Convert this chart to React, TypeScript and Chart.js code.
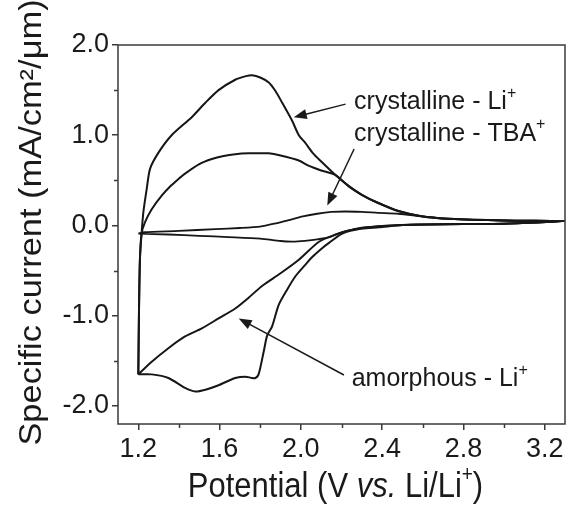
import React, { useEffect, useRef } from "react";
import { Chart, registerables } from "chart.js";
Chart.register(...registerables);

const FONT = "'Liberation Sans', Arial, Helvetica, sans-serif";

const xTicks = [1.2, 1.6, 2.0, 2.4, 2.8, 3.2];
const xMinorTicks = [1.4, 1.8, 2.2, 2.6, 3.0];
const yTicks = [-2, -1, 0, 1, 2];
const yMinorTicks = [-1.5, -0.5, 0.5, 1.5];

// crystalline - Li+ : anodic sweep then cathodic sweep (closed loop)
const crystLiX = [
  1.2, 1.203, 1.208, 1.216, 1.225, 1.241, 1.258, 1.3, 1.364, 1.463, 1.53, 1.595, 1.677, 1.73, 1.76, 1.8,
  1.842, 1.875, 1.908, 1.957, 1.99, 2.02, 2.06, 2.1, 2.17, 2.24, 2.3, 2.37, 2.48, 2.6, 2.73, 3.0, 3.3,
  3.0, 2.8, 2.6, 2.5, 2.385, 2.3, 2.204, 2.14, 2.1, 2.056, 2.02, 1.974, 1.93, 1.891, 1.858, 1.834, 1.817,
  1.8, 1.79, 1.776, 1.76, 1.727, 1.677, 1.595, 1.53, 1.48, 1.43, 1.348, 1.266, 1.2,
];
const crystLiY = [
  -1.65, -1.0, -0.37, -0.09, 0.15, 0.4, 0.63, 0.81, 1.0, 1.2, 1.36, 1.5, 1.615, 1.655, 1.665, 1.64,
  1.585, 1.49, 1.36, 1.16, 1.0, 0.92, 0.8, 0.71, 0.56, 0.43, 0.34, 0.26, 0.16, 0.1, 0.074, 0.055, 0.048,
  0.02, 0.015, 0.01, 0.005, -0.02, -0.035, -0.09, -0.19, -0.26, -0.35, -0.44, -0.56, -0.72, -0.88, -1.12,
  -1.22, -1.4, -1.58, -1.66, -1.69, -1.69, -1.675, -1.69, -1.77, -1.82, -1.84, -1.8, -1.69, -1.65, -1.65,
];

// crystalline - TBA+
const crystTbaX = [
  1.2, 1.23, 1.4, 1.58, 1.7, 1.8, 1.87, 1.94, 2.01, 2.08, 2.15, 2.22, 2.3, 2.38, 2.48, 2.6, 2.73, 3.0, 3.3,
  3.0, 2.8, 2.6, 2.5, 2.4, 2.3, 2.237, 2.2, 2.14, 2.08, 2.02, 1.96, 1.9, 1.8, 1.644, 1.5, 1.35, 1.2,
];
const crystTbaY = [
  -0.09, -0.075, -0.06, -0.04, -0.028, -0.012, 0.02, 0.06, 0.1, 0.13, 0.15, 0.155, 0.15, 0.14, 0.13, 0.1, 0.074, 0.055, 0.048,
  0.02, 0.015, 0.01, 0.005, -0.005, -0.025, -0.055, -0.075, -0.13, -0.155, -0.17, -0.178, -0.172, -0.145, -0.128, -0.115, -0.1, -0.09,
];

// amorphous - Li+
const amorLiX = [
  1.2, 1.203, 1.208, 1.216, 1.233, 1.266, 1.315, 1.36, 1.4, 1.43, 1.5, 1.562, 1.62, 1.677, 1.743, 1.8, 1.842,
  1.9, 1.99, 2.04, 2.1, 2.17, 2.237, 2.3, 2.37, 2.48, 2.6, 2.73, 3.0, 3.3,
  3.0, 2.8, 2.6, 2.5, 2.4, 2.3, 2.237, 2.171, 2.089, 1.99, 1.9, 1.809, 1.743, 1.677, 1.595, 1.513, 1.43,
  1.348, 1.266, 1.2,
];
const amorLiY = [
  -1.65, -1.0, -0.37, -0.09, 0.037, 0.18, 0.33, 0.44, 0.52, 0.575, 0.68, 0.737, 0.77, 0.79, 0.8, 0.8, 0.8,
  0.775, 0.72, 0.66, 0.61, 0.56, 0.43, 0.34, 0.26, 0.16, 0.1, 0.074, 0.055, 0.048,
  0.02, 0.015, 0.01, 0.005, -0.005, -0.03, -0.055, -0.1, -0.18, -0.38, -0.53, -0.67, -0.8, -0.92, -1.03, -1.14,
  -1.23, -1.36, -1.51, -1.65,
];

// annotations (data coordinates)
const labelTexts = ["crystalline - Li", "crystalline - TBA", "amorphous - Li"];
const labelX = [2.262, 2.262, 2.25];
const labelY = [1.29, 0.936, -1.78];
const arrowTailX = [2.22, 2.262, 2.212];
const arrowTailY = [1.345, 0.847, -1.657];
const arrowTipX = [1.965, 2.13, 1.694];
const arrowTipY = [1.198, 0.22, -1.03];

const yTitle = "Specific current (mA/cm\u00B2/\u03BCm)";

function toPts(xs: number[], ys: number[]) {
  return xs.map((x, i) => ({ x, y: ys[i] }));
}

type Part = { t: string; font: string; dy?: number };

function drawParts(
  ctx: CanvasRenderingContext2D,
  parts: Part[],
  x: number,
  y: number,
  align: "left" | "center",
  sy: number
) {
  let w = 0;
  for (const p of parts) {
    ctx.font = p.font;
    w += ctx.measureText(p.t).width;
  }
  ctx.save();
  ctx.translate(x, y);
  ctx.scale(1, sy);
  let cx = align === "center" ? -w / 2 : 0;
  ctx.textAlign = "left";
  ctx.textBaseline = "alphabetic";
  for (const p of parts) {
    ctx.font = p.font;
    ctx.fillText(p.t, cx, p.dy || 0);
    cx += ctx.measureText(p.t).width;
  }
  ctx.restore();
}

const decorPlugin = {
  id: "decor",
  afterDraw(chart: any) {
    const { ctx, chartArea: a, scales } = chart;
    const xs = scales.x;
    const ys = scales.y;
    ctx.save();
    ctx.strokeStyle = "#3a3a3a";
    ctx.lineWidth = 1.5;
    ctx.strokeRect(a.left, a.top, a.right - a.left, a.bottom - a.top);
    ctx.beginPath();
    xMinorTicks.forEach((v) => {
      const px = Math.round(xs.getPixelForValue(v)) + 0.5;
      ctx.moveTo(px, a.bottom);
      ctx.lineTo(px, a.bottom + 4);
    });
    yMinorTicks.forEach((v) => {
      const py = Math.round(ys.getPixelForValue(v)) + 0.5;
      ctx.moveTo(a.left, py);
      ctx.lineTo(a.left - 4, py);
    });
    ctx.stroke();

    ctx.fillStyle = "#1a1a1a";
    ctx.strokeStyle = "#1a1a1a";
    // annotations
    const f = `25px ${FONT}`;
    const fs = `16px ${FONT}`;
    labelTexts.forEach((t, i) => {
      const px = xs.getPixelForValue(labelX[i]);
      const py = ys.getPixelForValue(labelY[i]);
      drawParts(ctx, [{ t, font: f }, { t: "+", font: fs, dy: -11 }], px, py, "left", 1.05);
      const x0 = xs.getPixelForValue(arrowTailX[i]);
      const y0 = ys.getPixelForValue(arrowTailY[i]);
      const x1 = xs.getPixelForValue(arrowTipX[i]);
      const y1 = ys.getPixelForValue(arrowTipY[i]);
      const ang = Math.atan2(y1 - y0, x1 - x0);
      const hl = 13;
      const hw = 5;
      ctx.lineWidth = 1.5;
      ctx.beginPath();
      ctx.moveTo(x0, y0);
      ctx.lineTo(x1 - hl * 0.8 * Math.cos(ang), y1 - hl * 0.8 * Math.sin(ang));
      ctx.stroke();
      ctx.beginPath();
      ctx.moveTo(x1, y1);
      ctx.lineTo(x1 - hl * Math.cos(ang) + hw * Math.sin(ang), y1 - hl * Math.sin(ang) - hw * Math.cos(ang));
      ctx.lineTo(x1 - hl * Math.cos(ang) - hw * Math.sin(ang), y1 - hl * Math.sin(ang) + hw * Math.cos(ang));
      ctx.closePath();
      ctx.fill();
    });

    // x title
    const tf = `31px ${FONT}`;
    const tfi = `italic 31px ${FONT}`;
    const tfs = `19px ${FONT}`;
    drawParts(
      ctx,
      [
        { t: "Potential (V ", font: tf },
        { t: "vs.", font: tfi },
        { t: " Li/Li", font: tf },
        { t: "+", font: tfs, dy: -14 },
        { t: ")", font: tf },
      ],
      (a.left + a.right) / 2 - 6,
      a.bottom + 73,
      "center",
      1.12
    );
    // y title
    ctx.translate(a.left - 86, (a.top + a.bottom) / 2 - 12);
    ctx.rotate(-Math.PI / 2);
    ctx.scale(1.11, 1);
    ctx.font = `31px ${FONT}`;
    ctx.textAlign = "center";
    ctx.textBaseline = "middle";
    ctx.fillText(yTitle, 0, 0);
    ctx.restore();
  },
};

export default function App() {
  const ref = useRef<HTMLCanvasElement | null>(null);
  useEffect(() => {
    if (!ref.current) return;
    const lineColor = "#161616";
    const chart = new Chart(ref.current, {
      type: "scatter",
      data: {
        datasets: [
          { label: "crystalline - Li+", data: toPts(crystLiX, crystLiY), showLine: true, borderColor: lineColor, borderWidth: 2, pointRadius: 0 },
          { label: "crystalline - TBA+", data: toPts(crystTbaX, crystTbaY), showLine: true, borderColor: lineColor, borderWidth: 1.8, pointRadius: 0 },
          { label: "amorphous - Li+", data: toPts(amorLiX, amorLiY), showLine: true, borderColor: lineColor, borderWidth: 2, pointRadius: 0 },
        ],
      },
      options: {
        responsive: false,
        animation: false,
        devicePixelRatio: 1,
        elements: { line: { tension: 0.25 } },
        layout: { padding: { left: 0, top: 45, right: 3, bottom: 0 } },
        plugins: { legend: { display: false }, tooltip: { enabled: false } },
        scales: {
          x: {
            type: "linear",
            min: 1.1,
            max: 3.3,
            afterBuildTicks: (s: any) => {
              s.ticks = xTicks.map((v) => ({ value: v }));
            },
            afterFit: (s: any) => {
              s.height = 81;
            },
            ticks: {
              color: "#1a1a1a",
              font: { family: FONT, size: 27 },
              padding: 3,
              maxRotation: 0,
              autoSkip: false,
              callback: (v: any) => Number(v).toFixed(1),
            },
            grid: { drawOnChartArea: false, drawTicks: true, tickLength: 6, color: "#3a3a3a", lineWidth: 1.5 },
            border: { display: false },
          },
          y: {
            type: "linear",
            min: -2.2,
            max: 2.0,
            afterBuildTicks: (s: any) => {
              s.ticks = yTicks.map((v) => ({ value: v }));
            },
            afterFit: (s: any) => {
              s.width = 118;
            },
            ticks: {
              color: "#1a1a1a",
              font: { family: FONT, size: 27 },
              padding: 3,
              autoSkip: false,
              callback: (v: any) => Number(v).toFixed(1),
            },
            grid: { drawOnChartArea: false, drawTicks: true, tickLength: 6, color: "#3a3a3a", lineWidth: 1.5 },
            border: { display: false },
          },
        },
      },
      plugins: [decorPlugin],
    });
    return () => chart.destroy();
  }, []);
  return (
    <div style={{ position: "absolute", left: 0, top: 0, width: 568, height: 505, background: "#fff" }}>
      <canvas ref={ref} width={568} height={505} />
    </div>
  );
}
